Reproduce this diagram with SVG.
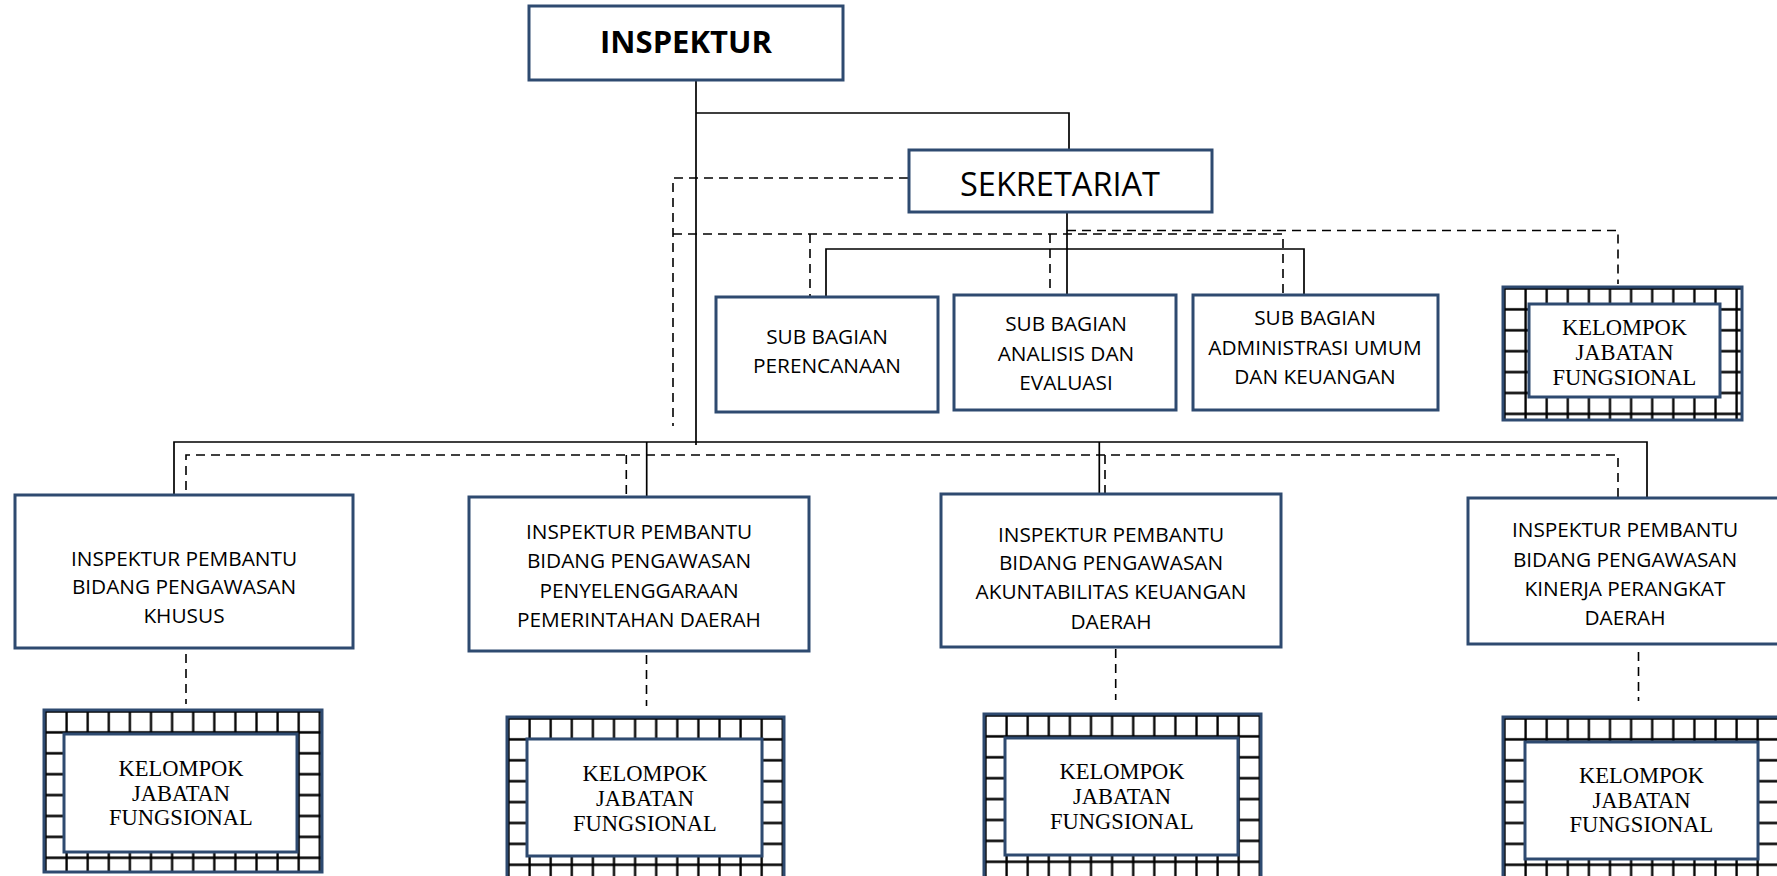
<svg xmlns="http://www.w3.org/2000/svg" width="1777" height="876" viewBox="0 0 1777 876">
<style>
.box{fill:#fff;stroke:#2E4A70;stroke-width:3}
.kout{fill:url(#grid);stroke:#2E4A70;stroke-width:3}
.t{font-family:"Open Sans","Liberation Sans",sans-serif;font-size:20.8px;fill:#000;text-anchor:middle}
.kt{font-family:"Liberation Serif",serif;font-size:22.5px;fill:#000;text-anchor:middle}
.solid{stroke:#000;stroke-width:1.7;fill:none}
.dash{stroke:#000;stroke-width:1.6;fill:none;stroke-dasharray:9 6}
</style>
<defs>
<pattern id="grid" patternUnits="userSpaceOnUse" x="0" y="0" width="21.1" height="20.9">
<rect width="21.1" height="20.9" fill="#fff"/>
<path d="M1.5,0V20.9M0,1.5H21.1" stroke="#000" stroke-width="2.3"/>
</pattern>
</defs>
<rect width="1777" height="876" fill="#fff"/>

<g id="connectors">
<path class="solid" d="M696,81V445M696,113H1069V149M1067,213V295M826,297V249H1304V295M174,506V442H1647V498M646.7,442V497M1099.3,442V494"/>
<path class="dash" d="M908,178H673V426M673,234H1283V295M810,234V296M1050,234V295M1067,230.5H1618V284M186,505V455H1618V497M626.3,455V497M1105,455V494M186,654V704M646.5,655V706M1115.7,649V700M1638.5,652V701"/>
</g>

<g id="inspektur">
<rect class="box" x="529" y="6" width="314" height="74"/>
<text x="686" y="53" style="font-family:'Open Sans','Liberation Sans',sans-serif;font-size:31px;font-weight:bold;text-anchor:middle">INSPEKTUR</text>
</g>

<g id="sekretariat">
<rect class="box" x="909" y="150" width="303" height="62"/>
<text x="1060" y="196" style="font-family:'Open Sans','Liberation Sans',sans-serif;font-size:32.5px;text-anchor:middle">SEKRETARIAT</text>
</g>

<g id="sub-perencanaan">
<rect class="box" x="716" y="297" width="222" height="115"/>
<text class="t" x="827" y="344">SUB BAGIAN</text>
<text class="t" x="827" y="373">PERENCANAAN</text>
</g>

<g id="sub-analisis">
<rect class="box" x="954" y="295" width="222" height="115"/>
<text class="t" x="1066" y="331">SUB BAGIAN</text>
<text class="t" x="1066" y="360.5">ANALISIS DAN</text>
<text class="t" x="1066" y="390">EVALUASI</text>
</g>

<g id="sub-administrasi">
<rect class="box" x="1193" y="295" width="245" height="115"/>
<text class="t" x="1315" y="325">SUB BAGIAN</text>
<text class="t" x="1315" y="355">ADMINISTRASI UMUM</text>
<text class="t" x="1315" y="384">DAN KEUANGAN</text>
</g>

<g id="kjf-sekretariat">
<rect class="kout" transform="translate(1503,287)" width="239" height="133"/>
<rect class="box" x="1529" y="304" width="191" height="93"/>
<text class="kt" x="1624.5" y="335">KELOMPOK</text>
<text class="kt" x="1624.5" y="360">JABATAN</text>
<text class="kt" x="1624.5" y="385">FUNGSIONAL</text>
</g>

<g id="irban-khusus">
<rect class="box" x="15" y="495" width="338" height="153"/>
<text class="t" x="184" y="566">INSPEKTUR PEMBANTU</text>
<text class="t" x="184" y="594.3">BIDANG PENGAWASAN</text>
<text class="t" x="184" y="622.7">KHUSUS</text>
</g>

<g id="irban-penyelenggaraan">
<rect class="box" x="469" y="497" width="340" height="154"/>
<text class="t" x="639" y="539">INSPEKTUR PEMBANTU</text>
<text class="t" x="639" y="568.3">BIDANG PENGAWASAN</text>
<text class="t" x="639" y="597.7">PENYELENGGARAAN</text>
<text class="t" x="639" y="626.7">PEMERINTAHAN DAERAH</text>
</g>

<g id="irban-akuntabilitas">
<rect class="box" x="941" y="494" width="340" height="153"/>
<text class="t" x="1111" y="541.7">INSPEKTUR PEMBANTU</text>
<text class="t" x="1111" y="570">BIDANG PENGAWASAN</text>
<text class="t" x="1111" y="599.3">AKUNTABILITAS KEUANGAN</text>
<text class="t" x="1111" y="629">DAERAH</text>
</g>

<g id="irban-kinerja">
<rect class="box" x="1468" y="498" width="340" height="146"/>
<text class="t" x="1625" y="537.3">INSPEKTUR PEMBANTU</text>
<text class="t" x="1625" y="566.7">BIDANG PENGAWASAN</text>
<text class="t" x="1625" y="596">KINERJA PERANGKAT</text>
<text class="t" x="1625" y="625">DAERAH</text>
</g>

<g id="kjf-khusus">
<rect class="kout" transform="translate(44,710)" width="278" height="162"/>
<rect class="box" x="64" y="734" width="233" height="118"/>
<text class="kt" x="181" y="776">KELOMPOK</text>
<text class="kt" x="181" y="800.5">JABATAN</text>
<text class="kt" x="181" y="825">FUNGSIONAL</text>
</g>

<g id="kjf-penyelenggaraan">
<rect class="kout" transform="translate(507,717)" width="277" height="175"/>
<rect class="box" x="527" y="739" width="235" height="117"/>
<text class="kt" x="645" y="781">KELOMPOK</text>
<text class="kt" x="645" y="805.5">JABATAN</text>
<text class="kt" x="645" y="830.5">FUNGSIONAL</text>
</g>

<g id="kjf-akuntabilitas">
<rect class="kout" transform="translate(984,714)" width="277" height="175"/>
<rect class="box" x="1005" y="738" width="233" height="117"/>
<text class="kt" x="1122" y="779.3">KELOMPOK</text>
<text class="kt" x="1122" y="804">JABATAN</text>
<text class="kt" x="1122" y="829.3">FUNGSIONAL</text>
</g>

<g id="kjf-kinerja">
<rect class="kout" transform="translate(1503,717)" width="300" height="175"/>
<rect class="box" x="1525" y="742" width="233" height="117"/>
<text class="kt" x="1641.5" y="783.3">KELOMPOK</text>
<text class="kt" x="1641.5" y="808">JABATAN</text>
<text class="kt" x="1641.5" y="832.3">FUNGSIONAL</text>
</g>
</svg>
